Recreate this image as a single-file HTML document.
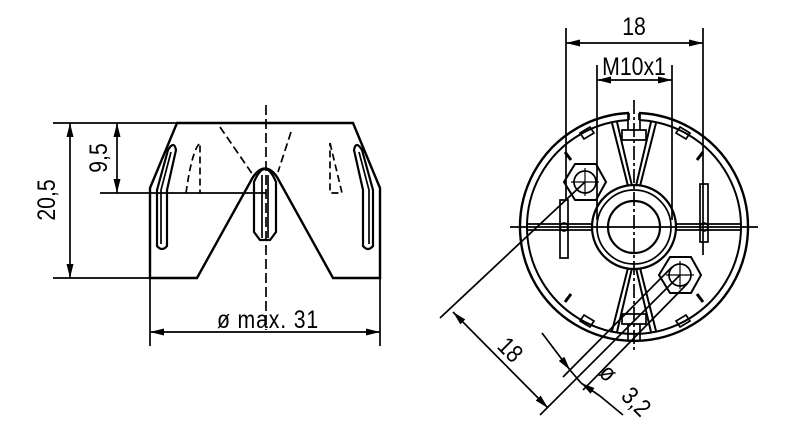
<!DOCTYPE html>
<html><head><meta charset="utf-8"><style>
html,body{margin:0;padding:0;background:#fff;}
svg{display:block;}
text{font-family:"Liberation Sans",sans-serif;fill:#000;}
</style></head><body>
<svg width="800" height="434" viewBox="0 0 800 434" xmlns="http://www.w3.org/2000/svg">
<defs>
<marker id="a" viewBox="0 0 14 7" refX="14" refY="3.5" markerWidth="14" markerHeight="7" orient="auto-start-reverse" markerUnits="userSpaceOnUse"><path d="M0,0 L14,3.5 L0,7 z" fill="#000"/></marker>
</defs>
<g fill="none" stroke="#000" stroke-width="1.7">
<!-- LEFT VIEW -->
<path d="M177,123 L353,123 L380,188 L380,278 L333,278 L277,177 Q265,160 253,177 L197,278 L150,278 L150,188 Z" stroke-width="2.4"/>
<line x1="266" y1="105" x2="266" y2="330" stroke-dasharray="10,4"/>
<path d="M254,182 Q265,156 276,182 L276,232 L270,240 L260,240 L254,232 Z" stroke-width="2.2"/>
<line x1="262" y1="175" x2="262" y2="238"/><line x1="268" y1="175" x2="268" y2="238"/>
<path d="M157,246 L157,190 L168,150 Q174,140 176,150 L167,190 L167,246 Q162,252 157,246 Z" stroke-width="2.2"/>
<path d="M161,244 L161,190 L171,152" />
<path d="M373,246 L373,190 L362,150 Q356,140 354,150 L363,190 L363,246 Q368,252 373,246 Z" stroke-width="2.2"/>
<path d="M369,244 L369,190 L359,152"/>
<path d="M220,127 L253,175 M291,132 L278,172" stroke-dasharray="8,4"/>
<path d="M186,193 Q192,150 200,143 L200,193" stroke-dasharray="7,4"/>
<path d="M330,143 L342,193 L330,193 Z" stroke-dasharray="7,4"/>
<line x1="53" y1="123" x2="177" y2="123"/>
<line x1="53" y1="278" x2="150" y2="278"/>
<line x1="100" y1="193" x2="266" y2="193"/>
<line x1="70" y1="123" x2="70" y2="278" marker-start="url(#a)" marker-end="url(#a)"/>
<line x1="117" y1="123" x2="117" y2="193" marker-start="url(#a)" marker-end="url(#a)"/>
<line x1="150" y1="278" x2="150" y2="346"/>
<line x1="380" y1="278" x2="380" y2="346"/>
<line x1="150" y1="332" x2="380" y2="332" marker-start="url(#a)" marker-end="url(#a)"/>

<!-- RIGHT VIEW -->
<path d="M629,113 A114,114 0 1 0 639,113" stroke-width="2.4"/>
<path d="M629,120 A107,107 0 1 0 639,120" stroke-width="2"/>
<line x1="629" y1="113" x2="629" y2="120"/><line x1="639" y1="113" x2="639" y2="120"/>
<circle cx="634" cy="227" r="42" stroke-width="2.2"/>
<circle cx="634" cy="227" r="37"/>
<circle cx="634" cy="227" r="26" stroke-width="2.2"/>
<path d="M612,123 L628,186 M617,122 L632,186 M656,123 L640,186 M651,122 L636,186" stroke-width="2"/>
<path d="M612,331 L628,268 M617,332 L632,268 M656,331 L640,268 M651,332 L636,268" stroke-width="2"/>
<path d="M527,224 L592,224 M527,230 L592,230 M676,224 L741,224 M676,230 L741,230"/>
<path d="M622,130 L646,130 L646,140 L622,140 Z M628,114 L628,130 M640,114 L640,130"/>
<path d="M622,314 L646,314 L646,324 L622,324 Z M628,324 L628,340 M640,324 L640,340"/>
<path d="M580,133 l10,-6 l4,6 l-10,6 z M680,127 l10,6 l-4,6 l-10,-6 z M580,321 l10,6 l4,-6 l-10,-6 z M680,327 l10,-6 l-4,-6 l-10,6 z"/>
<path d="M565,152 l6,8 M703,152 l-6,8 M565,302 l6,-8 M703,302 l-6,-8" stroke-width="3"/>
<rect x="560" y="200" width="8" height="58"/>
<rect x="700" y="184" width="8" height="58"/>
<circle cx="564" cy="227" r="4"/><circle cx="704" cy="227" r="4"/>
<polygon points="606,182 596,200 575,200 564,182 575,164 596,164" stroke-width="2"/>
<circle cx="585" cy="182" r="11"/>
<polygon points="701,275 691,293 670,293 659,275 670,257 691,257" stroke-width="2"/>
<circle cx="680" cy="275" r="11"/>
<path d="M585,168 V196 M571,182 H599 M680,261 V289 M666,275 H694" stroke-width="1.2"/>
<line x1="510" y1="227" x2="758" y2="227"/>
<line x1="634" y1="100" x2="634" y2="352" stroke-dasharray="14,3,3,3"/>
<line x1="566" y1="28" x2="566" y2="200"/>
<line x1="703" y1="28" x2="703" y2="255"/>
<line x1="566" y1="43" x2="703" y2="43" marker-start="url(#a)" marker-end="url(#a)"/>
<line x1="597" y1="65" x2="597" y2="220"/>
<line x1="672" y1="65" x2="672" y2="220"/>
<line x1="597" y1="80" x2="672" y2="80" marker-start="url(#a)" marker-end="url(#a)"/>
<line x1="585" y1="182" x2="440" y2="318"/>
<line x1="680" y1="275" x2="540" y2="415"/>
<line x1="453" y1="312" x2="548" y2="408" marker-start="url(#a)" marker-end="url(#a)"/>
<line x1="672" y1="267" x2="563" y2="377"/>
<line x1="688" y1="283" x2="583" y2="390"/>
<line x1="542" y1="333" x2="570" y2="370" marker-end="url(#a)"/>
<line x1="570" y1="370" x2="581" y2="383"/>
<line x1="600" y1="396" x2="581" y2="383" marker-end="url(#a)"/>
<line x1="600" y1="396" x2="623" y2="415"/>
</g>
<g font-size="25">
<text transform="translate(47,200) rotate(-90) scale(0.85,1)" text-anchor="middle" y="8">20,5</text>
<text transform="translate(99,158) rotate(-90) scale(0.85,1)" text-anchor="middle" y="8">9,5</text>
<text transform="translate(268,328) scale(0.85,1)" text-anchor="middle" letter-spacing="1">ø  max. 31</text>
<text transform="translate(634,35) scale(0.85,1)" text-anchor="middle">18</text>
<text transform="translate(634,75) scale(0.85,1)" text-anchor="middle">M10x1</text>
<text transform="translate(510,350) rotate(45) scale(0.85,1)" text-anchor="middle" y="8">18</text>
<text transform="translate(608,373) rotate(45) scale(0.85,1)" text-anchor="middle" y="8">ø</text>
<text transform="translate(636,402) rotate(45) scale(0.85,1)" text-anchor="middle" y="8">3,2</text>
</g>
</svg>
</body></html>
